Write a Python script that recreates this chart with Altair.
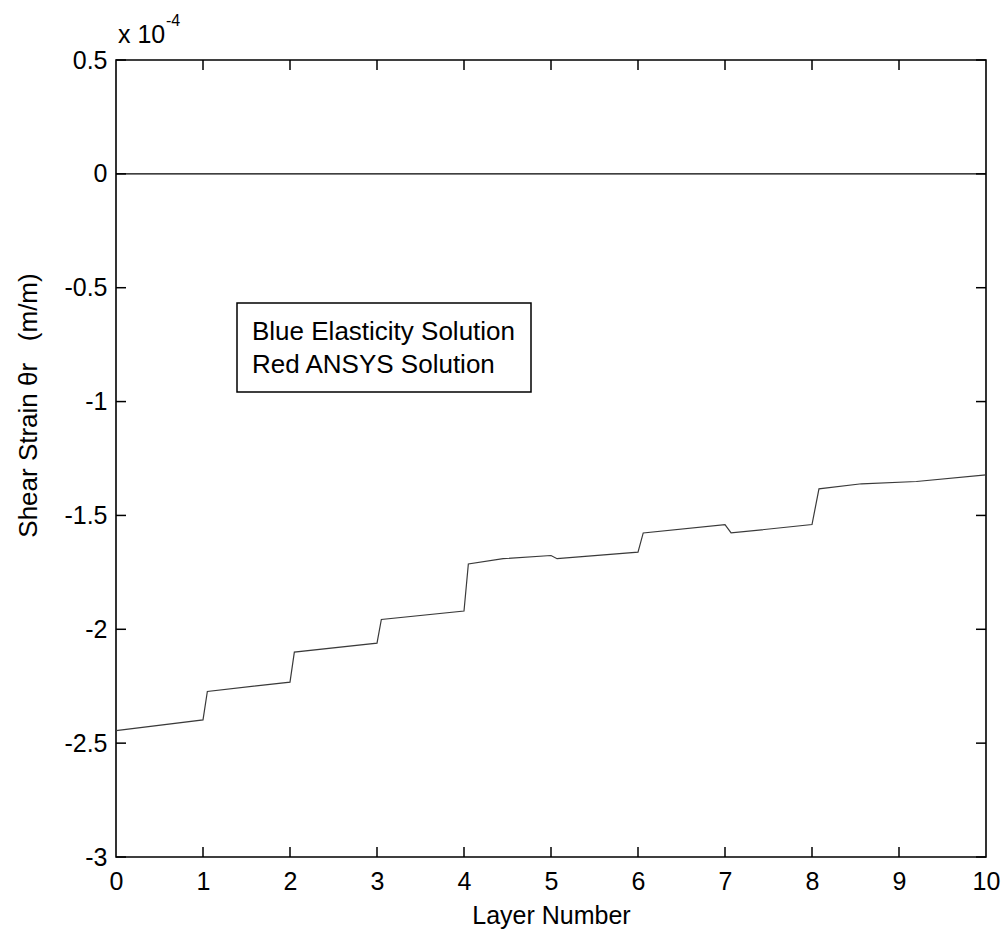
import altair as alt
import pandas as pd

# Shear strain along the layer stack (values in units of 1e-4 m/m)
layer_x = [0, 1.0, 1.05, 2.0, 2.05, 3.0, 3.05, 4.0, 4.05, 4.45, 5.0, 5.07,
           6.0, 6.06, 7.0, 7.07, 8.0, 8.08, 8.57, 9.2, 10]
ansys_y = [-2.445, -2.398, -2.273, -2.232, -2.10, -2.061, -1.957, -1.92,
           -1.713, -1.69, -1.676, -1.69, -1.661, -1.577, -1.540, -1.577,
           -1.54, -1.383, -1.361, -1.351, -1.322]

# Reference solution along the zero line
elastic_x = [0, 10]
elastic_y = [0, 0]

x_ticks = [0, 1, 2, 3, 4, 5, 6, 7, 8, 9, 10]
y_ticks = [0.5, 0, -0.5, -1, -1.5, -2, -2.5, -3]
legend_lines = ["Blue Elasticity Solution", "Red ANSYS Solution"]

X_TITLE = "Layer Number"
Y_TITLE = "Shear Strain \u03b8r\u00a0\u00a0\u00a0(m/m)"

W, H = 870, 797
FONT = "Liberation Sans, Arial, Helvetica, sans-serif"
FS = 25

xs = alt.Scale(domain=[0, 10], nice=False, zero=False)
ys = alt.Scale(domain=[-3, 0.5], nice=False, zero=False)

ansys = pd.DataFrame({"layer": layer_x, "strain": ansys_y})
elastic = pd.DataFrame({"layer": elastic_x, "strain": elastic_y})

x_axis = alt.Axis(
    values=x_ticks, labelExpr="datum.value + ''", title=X_TITLE,
    grid=False, domain=False, ticks=False, labelFlush=False, labelOverlap=False,
    labelFont=FONT, labelFontSize=FS, labelColor="black", labelPadding=12,
    titleFont=FONT, titleFontSize=FS, titleFontWeight="normal", titleColor="black",
    titleY=66, titleBaseline="alphabetic",
)
y_axis = alt.Axis(
    values=y_ticks, labelExpr="datum.value + ''", title=Y_TITLE,
    grid=False, domain=False, ticks=False, labelFlush=False, labelOverlap=False,
    labelFont=FONT, labelFontSize=FS, labelColor="black", labelPadding=9,
    titleFont=FONT, titleFontSize=26, titleFontWeight="normal", titleColor="black",
    titleAngle=270, titleX=-88, titleY=345, titleAlign="center", titleBaseline="middle",
)


def xq(field):
    return alt.X(f"{field}:Q", scale=xs, axis=x_axis, title=X_TITLE)


def yq(field):
    return alt.Y(f"{field}:Q", scale=ys, axis=y_axis, title=Y_TITLE)


elastic_line = alt.Chart(elastic).mark_line(color="black", strokeWidth=1.3).encode(
    x=xq("layer"), y=yq("strain"),
)
ansys_line = alt.Chart(ansys).mark_line(color="#3a3a3a", strokeWidth=1.2).encode(
    x=xq("layer"), y=yq("strain"),
)

# Inward tick marks on all four sides of the frame
xt = pd.DataFrame({"layer": x_ticks[1:-1]})
yt = pd.DataFrame({"strain": y_ticks})
tick_len = 10
tick_style = dict(color="black", strokeWidth=1.5)
bottom_ticks = alt.Chart(xt).mark_rule(**tick_style).encode(
    x=xq("layer"), y=alt.value(H - tick_len), y2=alt.value(H))
top_ticks = alt.Chart(xt).mark_rule(**tick_style).encode(
    x=xq("layer"), y=alt.value(0), y2=alt.value(tick_len))
left_ticks = alt.Chart(yt).mark_rule(**tick_style).encode(
    y=yq("strain"), x=alt.value(0), x2=alt.value(tick_len))
right_ticks = alt.Chart(yt).mark_rule(**tick_style).encode(
    y=yq("strain"), x=alt.value(W - tick_len), x2=alt.value(W))

# Text box with the series description
legend_df = pd.DataFrame({"label": legend_lines})
legend_box = alt.Chart(legend_df.head(1)).mark_rect(
    fill="white", stroke="black", strokeWidth=1.5
).encode(x=alt.value(121), x2=alt.value(415), y=alt.value(243), y2=alt.value(332))
text_style = dict(align="left", baseline="alphabetic", font=FONT, fontSize=26, color="black")
legend_line1 = alt.Chart(legend_df.head(1)).mark_text(**text_style).encode(
    x=alt.value(136), y=alt.value(280), text="label:N")
legend_line2 = alt.Chart(legend_df.tail(1)).mark_text(**text_style).encode(
    x=alt.value(136), y=alt.value(313), text="label:N")

# Axis multiplier "x 10^-4" above the frame
mult_df = pd.DataFrame({"base": ["x 10"], "exp": ["-4"]})
mult_base = alt.Chart(mult_df).mark_text(
    align="left", baseline="alphabetic", font=FONT, fontSize=FS, color="black"
).encode(x=alt.value(2), y=alt.value(-17), text="base:N")
mult_exp = alt.Chart(mult_df).mark_text(
    align="left", baseline="alphabetic", font=FONT, fontSize=16, color="black"
).encode(x=alt.value(50), y=alt.value(-34), text="exp:N")

chart = alt.layer(
    elastic_line, ansys_line,
    bottom_ticks, top_ticks, left_ticks, right_ticks,
    legend_box, legend_line1, legend_line2, mult_base, mult_exp,
).properties(
    width=W, height=H,
    autosize=alt.AutoSizeParams(type="none"),
    padding={"left": 116, "top": 60, "right": 15, "bottom": 75},
    background="white",
).configure_view(stroke="black", strokeWidth=1.6)

chart.save("out.html", embed_options={"renderer": "svg", "actions": False})
